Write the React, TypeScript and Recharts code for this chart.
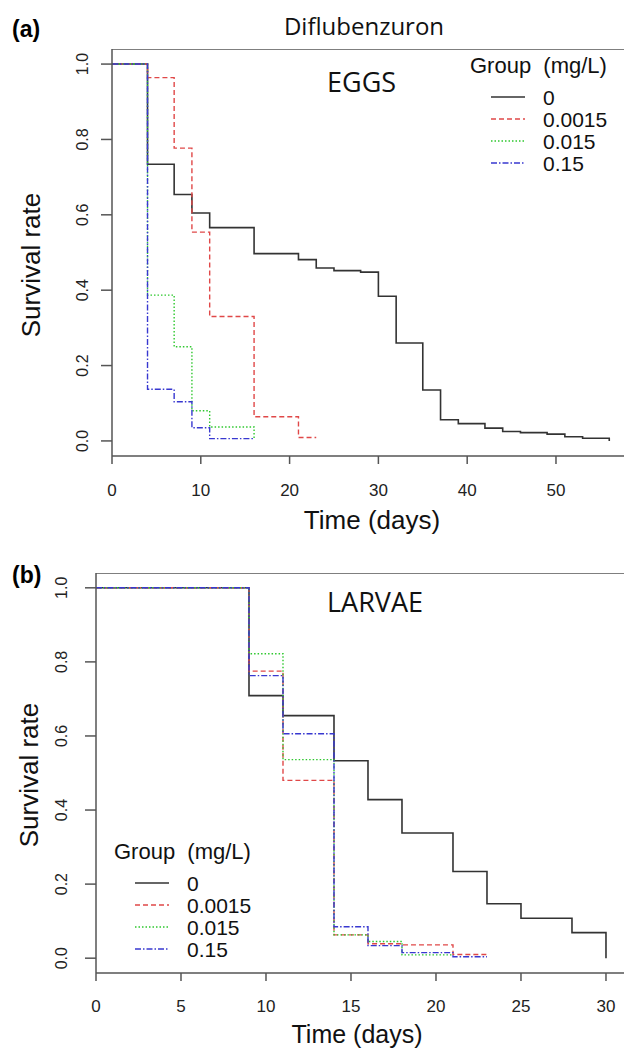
import { LineChart, Line, XAxis, YAxis, ReferenceLine } from 'recharts';

// survival curves, eggs (days / survival rate)
const eggsCtrlT = [0, 4, 7, 9, 11, 16, 21, 23, 25, 28, 30, 32, 35, 37, 39, 42, 44, 46, 49, 51, 53, 56];
const eggsCtrlS = [1, 0.734, 0.654, 0.605, 0.566, 0.497, 0.481, 0.459, 0.452, 0.448, 0.384, 0.26, 0.135, 0.056, 0.046, 0.034, 0.025, 0.022, 0.018, 0.011, 0.007, 0];
const eggsLowT = [0, 4, 7, 9, 11, 16, 21, 23];
const eggsLowS = [1, 0.964, 0.777, 0.554, 0.33, 0.064, 0.009, 0.009];
const eggsMidT = [0, 4, 7, 9, 11, 16];
const eggsMidS = [1, 0.387, 0.25, 0.08, 0.037, 0.004];
const eggsHighT = [0, 4, 7, 9, 11, 16];
const eggsHighS = [1, 0.137, 0.104, 0.035, 0.006, 0.006];

// survival curves, larvae
const larvCtrlT = [0, 9, 11, 14, 16, 18, 21, 23, 25, 28, 30];
const larvCtrlS = [1, 0.709, 0.655, 0.533, 0.428, 0.338, 0.234, 0.147, 0.108, 0.069, 0];
const larvLowT = [0, 9, 11, 14, 16, 18, 21, 23];
const larvLowS = [1, 0.775, 0.48, 0.063, 0.039, 0.036, 0.01, 0.01];
const larvMidT = [0, 9, 11, 14, 16, 18, 21];
const larvMidS = [1, 0.822, 0.536, 0.063, 0.045, 0.009, 0.009];
const larvHighT = [0, 9, 11, 14, 16, 18, 21, 23];
const larvHighS = [1, 0.763, 0.606, 0.085, 0.034, 0.015, 0.004, 0.004];

const groups = ['0', '0.0015', '0.015', '0.15'];
const yTicks = [0, 0.2, 0.4, 0.6, 0.8, 1.0];
const eggsXTicks = [0, 10, 20, 30, 40, 50];
const larvXTicks = [0, 5, 10, 15, 20, 25, 30];

const styles = [
  { stroke: '#333', dash: undefined, width: 1.6 },
  { stroke: '#e04848', dash: '5 3', width: 1.4 },
  { stroke: '#2ec82e', dash: '1.5 2', width: 1.4 },
  { stroke: '#3838d0', dash: '6 2 1.5 2', width: 1.4 },
];

const pts = (t: number[], s: number[]) => t.map((x, i) => ({ t: x, s: s[i] }));

const eggsSeries = [pts(eggsCtrlT, eggsCtrlS), pts(eggsLowT, eggsLowS), pts(eggsMidT, eggsMidS), pts(eggsHighT, eggsHighS)];
const larvSeries = [pts(larvCtrlT, larvCtrlS), pts(larvLowT, larvLowS), pts(larvMidT, larvMidS), pts(larvHighT, larvHighS)];

const ARIAL = '"Liberation Sans", Arial, sans-serif';
const CALIBRI = '"Open Sans", sans-serif';
const AXIS = '#555';

const YTick = (props: any) => {
  const { x, y, payload } = props;
  return (
    <text x={x} y={y} transform={`rotate(-90 ${x} ${y})`} textAnchor="middle" fontSize={16} fill="#222" fontFamily={ARIAL}>
      {Number(payload.value).toFixed(1)}
    </text>
  );
};

function Panel({ series, xTicks, xMax, top, height, yWidth, xHeight, tickMarginX, tickMarginY }: any) {
  return (
    <div style={{ position: 'absolute', left: 0, top }}>
      <LineChart width={624} height={height} margin={{ top: 0, right: 0, bottom: 0, left: 0 }}>
        <XAxis
          dataKey="t"
          type="number"
          domain={[0, xMax]}
          ticks={xTicks}
          interval={0}
          allowDataOverflow
          height={xHeight}
          stroke={AXIS}
          strokeWidth={1.5}
          tickSize={8}
          tickMargin={tickMarginX}
          tick={{ fontSize: 17, fill: '#222', fontFamily: ARIAL }}
        />
        <YAxis
          type="number"
          domain={[-0.04, 1.04]}
          ticks={yTicks}
          interval={0}
          allowDataOverflow
          width={yWidth}
          stroke={AXIS}
          strokeWidth={1.5}
          tickSize={11}
          tickMargin={tickMarginY}
          tick={<YTick />}
        />
        <ReferenceLine y={1.04} stroke={AXIS} strokeWidth={1.5} />
        {series.map((d: any, i: number) => (
          <Line
            key={groups[i]}
            data={d}
            dataKey="s"
            name={groups[i]}
            type="stepAfter"
            stroke={styles[i].stroke}
            strokeWidth={styles[i].width}
            strokeDasharray={styles[i].dash}
            dot={false}
            activeDot={false}
            isAnimationActive={false}
          />
        ))}
      </LineChart>
    </div>
  );
}

function LegendBlock({ x, y }: { x: number; y: number }) {
  return (
    <g fontFamily={ARIAL} fill="#111">
      <text x={x} y={y} fontSize={22} style={{ whiteSpace: 'pre' }}>{'Group  (mg/L)'}</text>
      {groups.map((g, i) => {
        const cy = y + 24 + i * 22;
        return (
          <g key={g}>
            <line x1={x + 21} x2={x + 55} y1={cy} y2={cy} stroke={i === 0 ? '#333' : styles[i].stroke} strokeWidth={1.5} strokeDasharray={styles[i].dash} />
            <text x={x + 73} y={cy + 7.5} fontSize={21}>{g}</text>
          </g>
        );
      })}
    </g>
  );
}

export default function App() {
  return (
    <div style={{ position: 'relative', width: 624, height: 1050, background: '#fff' }}>
      <style>{'body{margin:0}'}</style>
      <Panel series={eggsSeries} xTicks={eggsXTicks} xMax={57.66} top={49} height={491} yWidth={112} xHeight={84} tickMarginX={20} tickMarginY={13} />
      <Panel series={larvSeries} xTicks={larvXTicks} xMax={31.06} top={573} height={477} yWidth={96} xHeight={77} tickMarginX={19} tickMarginY={18} />
      <svg width={624} height={1050} style={{ position: 'absolute', left: 0, top: 0, pointerEvents: 'none' }}>
        <text x={12} y={37} fontSize={23} fontWeight="bold" fontFamily={ARIAL}>(a)</text>
        <text x={12} y={583} fontSize={23} fontWeight="bold" fontFamily={ARIAL}>(b)</text>
        <text x={364} y={35} fontSize={24} textAnchor="middle" fontFamily={CALIBRI} fill="#111">Diflubenzuron</text>
        <text x={327} y={92} fontSize={27} fontFamily={CALIBRI} fill="#111">EGGS</text>
        <text x={327} y={612} fontSize={27} fontFamily={CALIBRI} fill="#111">LARVAE</text>
        <text x={372} y={529} fontSize={26} textAnchor="middle" fontFamily={ARIAL} fill="#111">Time (days)</text>
        <text x={357} y={1043} fontSize={25} textAnchor="middle" fontFamily={ARIAL} fill="#111">Time (days)</text>
        <text x={40} y={265} fontSize={26} textAnchor="middle" transform="rotate(-90 40 265)" fontFamily={ARIAL} fill="#111">Survival rate</text>
        <text x={38} y={775} fontSize={26} textAnchor="middle" transform="rotate(-90 38 775)" fontFamily={ARIAL} fill="#111">Survival rate</text>
        <LegendBlock x={470} y={73} />
        <LegendBlock x={114} y={859} />
      </svg>
    </div>
  );
}
